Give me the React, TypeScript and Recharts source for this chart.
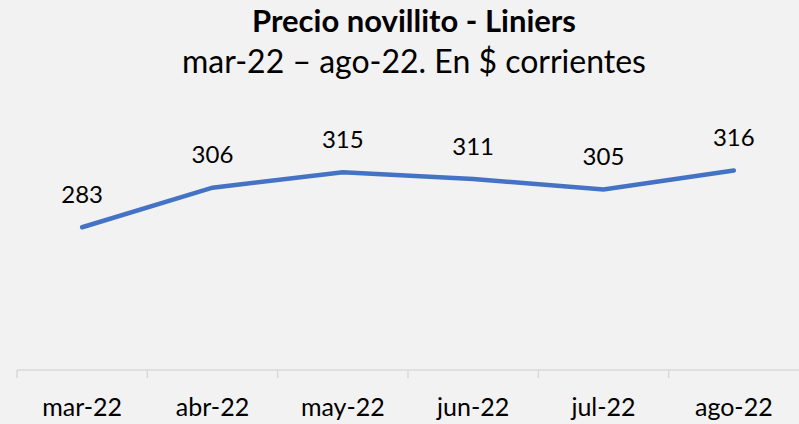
import { LineChart, Line, XAxis, YAxis, LabelList } from 'recharts'

const months = ['mar-22', 'abr-22', 'may-22', 'jun-22', 'jul-22', 'ago-22']
const prices = [283, 306, 315, 311, 305, 316]

const data = months.map((month, i) => ({ month, price: prices[i] }))

const WIDTH = 799
const HEIGHT = 424
const LEFT = 17
const HALF_BAND = (WIDTH - LEFT) / months.length / 2
const FONT = 'Lato, "Open Sans", sans-serif'

function MonthTick(props: any) {
  const { x, y, payload } = props
  return (
    <g>
      <line x1={x - HALF_BAND} x2={x - HALF_BAND} y1={y - 8} y2={y} stroke="#d9d9d9" strokeWidth={1.5} />
      <text x={x} y={y + 38} textAnchor="middle" fontSize={25} fill="#000" fontFamily={FONT}>
        {payload.value}
      </text>
    </g>
  )
}

function PriceLabel(props: any) {
  const { x, y, value } = props
  return (
    <text x={x} y={y - 34} textAnchor="middle" dominantBaseline="central" fontSize={24} fill="#000" fontFamily={FONT}>
      {value}
    </text>
  )
}

export default function App() {
  return (
    <div style={{ position: 'absolute', left: 0, top: 0, width: WIDTH, height: HEIGHT, background: '#f2f2f2' }}>
      <svg width={WIDTH} height={90} style={{ position: 'absolute', left: 0, top: 0 }}>
        <text x={414} y={32} textAnchor="middle" fontSize={31} fontWeight={700} fontFamily={FONT} fill="#000">
          Precio novillito - Liniers
        </text>
        <text x={414} y={73} textAnchor="middle" fontSize={32} fontFamily={FONT} fill="#000">
          mar-22 – ago-22. En $ corrientes
        </text>
      </svg>
      <LineChart width={WIDTH} height={HEIGHT} data={data} margin={{ top: 26, right: 0, left: LEFT, bottom: 0 }}>
        <XAxis
          dataKey="month"
          axisLine={{ stroke: '#d9d9d9', strokeWidth: 1.5 }}
          tickLine={false}
          tick={<MonthTick />}
          padding={{ left: HALF_BAND, right: HALF_BAND }}
          interval={0}
          height={54}
        />
        <YAxis hide domain={[200, 400]} />
        <Line
          dataKey="price"
          stroke="#4472c4"
          strokeWidth={4.5}
          strokeLinecap="round"
          dot={false}
          isAnimationActive={false}
        >
          <LabelList dataKey="price" content={<PriceLabel />} />
        </Line>
      </LineChart>
    </div>
  )
}
